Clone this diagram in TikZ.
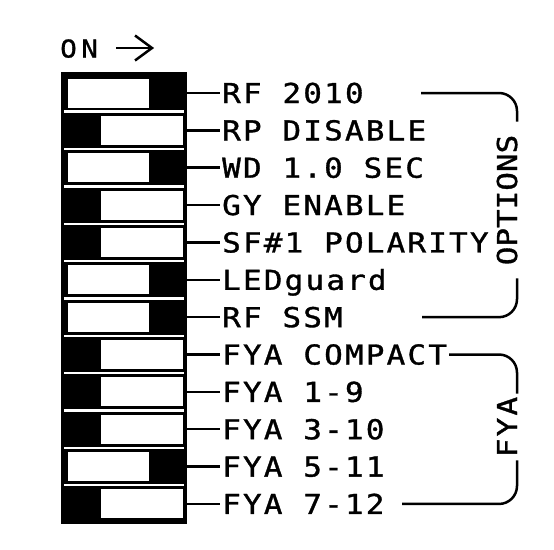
\documentclass[tikz,border=0pt]{standalone}
\usepackage{fontspec}
\newfontfamily\cad[LetterSpace=8, FakeStretch=1.13, FakeBold=1.2]{DejaVu Sans Mono}
\usetikzlibrary{calc}
\begin{document}
\begin{tikzpicture}[x=1pt,y=1pt,
  lab/.style={font=\cad\fontsize{27.4}{30}\selectfont, anchor=west, inner xsep=2pt, inner ysep=0pt, text height=20pt, text depth=0pt},
  vlab/.style={font=\cad\fontsize{27.4}{30}\selectfont\addfontfeature{LetterSpace=0}, rotate=90, inner ysep=0pt, text height=20pt, text depth=0pt},
  lead/.style={line width=2.5pt},
  brk/.style={line width=2.5pt, rounded corners=18pt}]
\useasboundingbox (0,0) rectangle (554,-549);
% ON arrow
\node[font=\cad\fontsize{24.5}{26}\selectfont\addfontfeature{LetterSpace=18}, anchor=west, inner xsep=0pt, inner ysep=0pt, text height=18pt, text depth=0pt] (on) at (60,-48.5) {ON};
\coordinate (tip) at (152,-48);
\coordinate (arrS) at (116,-48);
\draw[lead] (arrS) -- (tip);
\draw[lead, line join=miter] ($(tip)+(-17,12.5)$) -- (tip) -- ($(tip)+(-17,-12.5)$);
% switch body
\node[fill=black, inner sep=0pt, minimum width=126pt, minimum height=452pt, anchor=north west] (frame) at (61,-72) {};
\foreach \i in {1,...,11} {
  \pgfmathsetmacro\ys{93+37.36*(\i-1)+18.68}
  \fill[white] (64,-\ys+1.2) rectangle (184,-\ys-1.2);
}
\foreach \i/\t/\xa/\xb in {
  1/RF 2010/68/149,
  2/RP DISABLE/101/183,
  3/WD 1.0 SEC/68/149,
  4/GY ENABLE/101/183,
  5/SF\#1 POLARITY/101/183,
  6/LEDguard/68/149,
  7/RF SSM/68/149,
  8/FYA COMPACT/101/183,
  9/FYA 1-9/101/183,
  10/FYA 3-10/101/183,
  11/FYA 5-11/68/149,
  12/FYA 7-12/101/183} {
  \pgfmathsetmacro\yy{93+37.36*(\i-1)}
  \fill[white] (\xa,-\yy+14.5) rectangle (\xb,-\yy-14.5);
  \node[lab] (l\i) at (220,-\yy) {\t};
  \draw[lead] (l\i.west -| frame.east) -- (l\i.west);
}
% brackets
\coordinate (ox) at (517,0);
\node[vlab, inner xsep=13pt] (opt) at (507,-200) {OPTIONS};
\coordinate (optA) at (421,-93);
\coordinate (optB) at (422,-317.2);
\draw[brk] (optA) -- (ox |- l1.west) -- (ox |- opt.east);
\draw[brk] (ox |- opt.west) -- (ox |- l7.west) -- (optB);
\node[vlab, inner xsep=3pt, font=\cad\fontsize{27.4}{30}\selectfont] (fya) at (507,-427) {FYA};
\coordinate (fyaB) at (402,-503.9);
\draw[brk] (l8.east) -- (ox |- l8.west) -- (ox |- fya.east);
\draw[brk] (ox |- fya.west) -- (ox |- l12.west) -- (fyaB);
\end{tikzpicture}
\end{document}
